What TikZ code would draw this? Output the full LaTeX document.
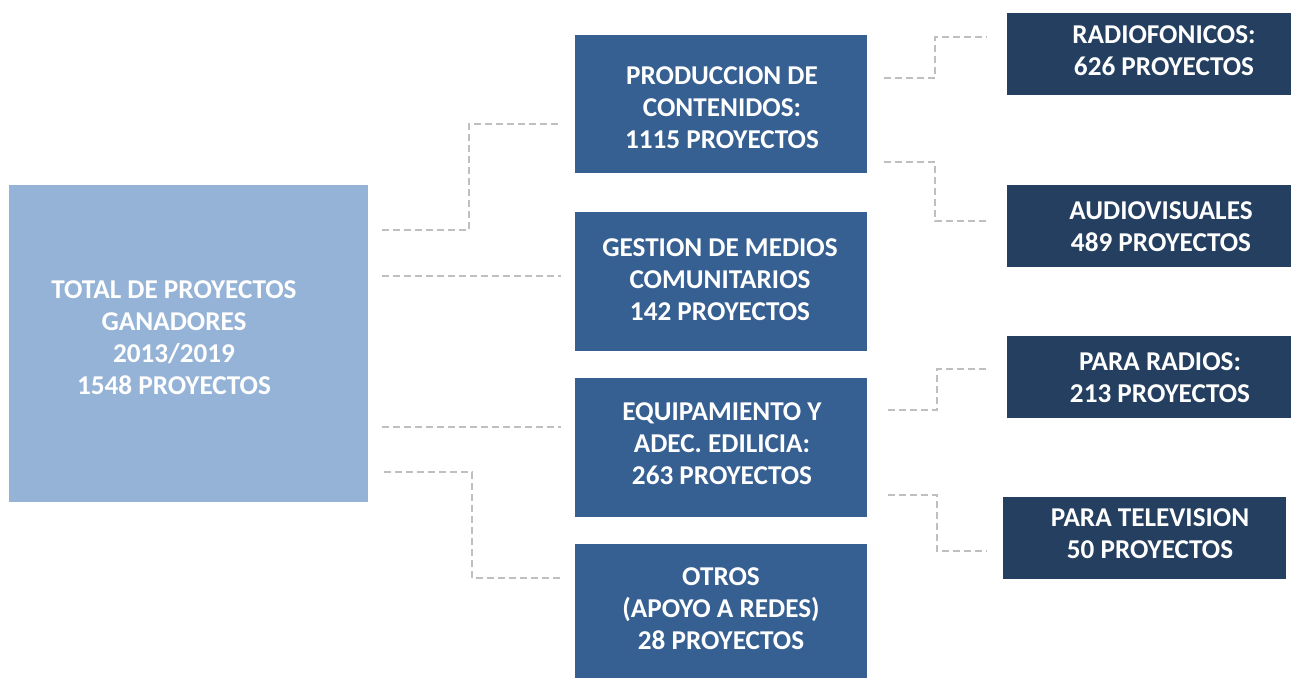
\documentclass[tikz,border=0pt]{standalone}
\usepackage{fontspec}
\setmainfont{Carlito}
\definecolor{lightbox}{HTML}{95B3D7}
\definecolor{midbox}{HTML}{376092}
\definecolor{darkbox}{HTML}{243F60}
\definecolor{dashgray}{HTML}{BFBFBF}
\begin{document}
\begin{tikzpicture}[x=1pt,y=-1pt,
  txt/.style={text=white,font=\fontsize{27.2}{32}\selectfont\bfseries,align=center,inner sep=0pt},
  conn/.style={draw=dashgray,line width=2.8pt,dash pattern=on 7pt off 4pt}]
\useasboundingbox (0,0) rectangle (1291,678);
% boxes
\fill[lightbox] (9,185) rectangle (368,502);
\fill[midbox] (575,35) rectangle (867,173);
\fill[midbox] (575,212) rectangle (867,351);
\fill[midbox] (575,378) rectangle (867,517);
\fill[midbox] (575,544) rectangle (867,678);
\fill[darkbox] (1007,13) rectangle (1291,95);
\fill[darkbox] (1007,185) rectangle (1291,267);
\fill[darkbox] (1007,336) rectangle (1291,418);
\fill[darkbox] (1003,497) rectangle (1286,579);
% texts
\node[txt] (total) at (174,338) {TOTAL DE PROYECTOS\\GANADORES\\2013/2019\\1548 PROYECTOS};
\node[txt] (prod) at (722,108) {PRODUCCION DE\\CONTENIDOS:\\1115 PROYECTOS};
\node[txt] (gest) at (720,280) {GESTION DE MEDIOS\\COMUNITARIOS\\142 PROYECTOS};
\node[txt] (equi) at (722,444) {EQUIPAMIENTO Y\\ADEC. EDILICIA:\\263 PROYECTOS};
\node[txt] (otros) at (721,609) {OTROS\\(APOYO A REDES)\\28 PROYECTOS};
\node[txt] (radiof) at (1164,51) {RADIOFONICOS:\\626 PROYECTOS};
\node[txt] (audio) at (1161,227) {AUDIOVISUALES\\489 PROYECTOS};
\node[txt] (radios) at (1160,378) {PARA RADIOS:\\213 PROYECTOS};
\node[txt] (tele) at (1150,534) {PARA TELEVISION\\50 PROYECTOS};
% connector endpoints
\coordinate (a1) at (382,230); \coordinate (a2) at (561,124);
\coordinate (b1) at (382,276); \coordinate (b2) at (561,276);
\coordinate (c1) at (382,427); \coordinate (c2) at (561,427);
\coordinate (d1) at (384,472); \coordinate (d2) at (563,578);
\coordinate (e1) at (884,78);  \coordinate (e2) at (987,37);
\coordinate (f1) at (884,162); \coordinate (f2) at (987,221);
\coordinate (g1) at (888,410); \coordinate (g2) at (987,369);
\coordinate (h1) at (888,495); \coordinate (h2) at (987,551);
\draw[conn] (a1) -- (469,230) -- (469,124) -- (a2);
\draw[conn] (b1) -- (b2);
\draw[conn] (c1) -- (c2);
\draw[conn] (d1) -- (472,472) -- (472,578) -- (d2);
\draw[conn] (e1) -- (935,78) -- (935,37) -- (e2);
\draw[conn] (f1) -- (935,162) -- (935,221) -- (f2);
\draw[conn] (g1) -- (937,410) -- (937,369) -- (g2);
\draw[conn] (h1) -- (937,495) -- (937,551) -- (h2);
\end{tikzpicture}
\end{document}
